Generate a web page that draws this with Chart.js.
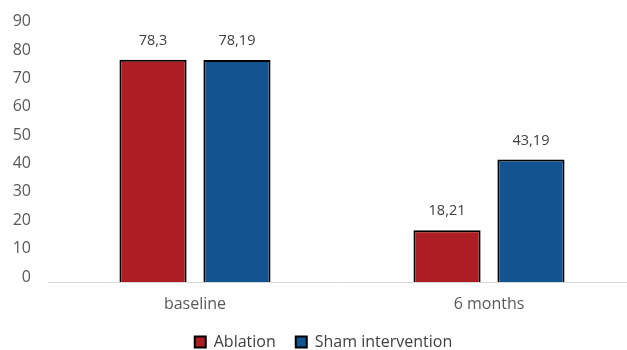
<!DOCTYPE html>
<html>
<head>
<meta charset="utf-8">
<script src="https://cdn.jsdelivr.net/npm/chart.js@4/dist/chart.umd.min.js"></script>
<style>
  html, body { margin: 0; padding: 0; background: #fff; overflow: hidden; }
  #wrap { position: relative; width: 658px; height: 350px; }
</style>
</head>
<body>
<div id="wrap"><canvas id="c"></canvas></div>
<script>
const categories = ['baseline', '6 months'];
const ablation = [78.3, 18.21];
const sham = [78.19, 43.19];
const yTicks = [0, 10, 20, 30, 40, 50, 60, 70, 80, 90];

const FONT = "'Open Sans', 'Noto Sans', sans-serif";

// Value labels above each bar, written with a decimal comma
const valueLabels = {
  id: 'valueLabels',
  afterDatasetsDraw(chart) {
    const ctx = chart.ctx;
    ctx.save();
    ctx.font = '14.5px ' + FONT;
    ctx.fillStyle = '#404040';
    ctx.textAlign = 'center';
    ctx.textBaseline = 'middle';
    chart.data.datasets.forEach((ds, i) => {
      chart.getDatasetMeta(i).data.forEach((bar, j) => {
        const txt = String(ds.data[j]).replace('.', ',');
        ctx.fillText(txt, bar.x, bar.y - 19);
      });
    });
    ctx.restore();
  }
};

new Chart(document.getElementById('c'), {
  type: 'bar',
  data: {
    labels: categories,
    datasets: [
      { label: 'Ablation', data: ablation, backgroundColor: '#AC1E24', borderColor: '#000', borderWidth: 2 },
      { label: 'Sham intervention', data: sham, backgroundColor: '#135490', borderColor: '#000', borderWidth: 2 }
    ]
  },
  options: {
    responsive: true,
    maintainAspectRatio: false,
    animation: false,
    layout: { padding: { top: 14, right: 22, left: 11, bottom: -10 } },
    datasets: { bar: { categoryPercentage: 0.571, barPercentage: 0.8 } },
    plugins: {
      tooltip: { enabled: false },
      legend: {
        position: 'bottom',
        labels: {
          boxWidth: 11, boxHeight: 11, color: '#404040',
          font: { size: 16, family: FONT }, padding: 20
        }
      }
    },
    scales: {
      x: {
        grid: { display: false, drawTicks: false },
        border: { display: true, color: '#d9d9d9', width: 1 },
        ticks: { color: '#595959', font: { size: 16, family: FONT }, padding: 13 },
        afterFit(axis) { axis.height = 32; }
      },
      y: {
        min: 0, max: 90,
        afterBuildTicks(axis) { axis.ticks = yTicks.map(v => ({ value: v })); },
        afterFit(axis) { axis.width = 37; },
        grid: { display: false, drawTicks: false },
        border: { display: false },
        ticks: { color: '#595959', font: { size: 16, family: FONT }, padding: 17, labelOffset: -5 }
      }
    }
  },
  plugins: [valueLabels]
});
</script>
</body>
</html>
